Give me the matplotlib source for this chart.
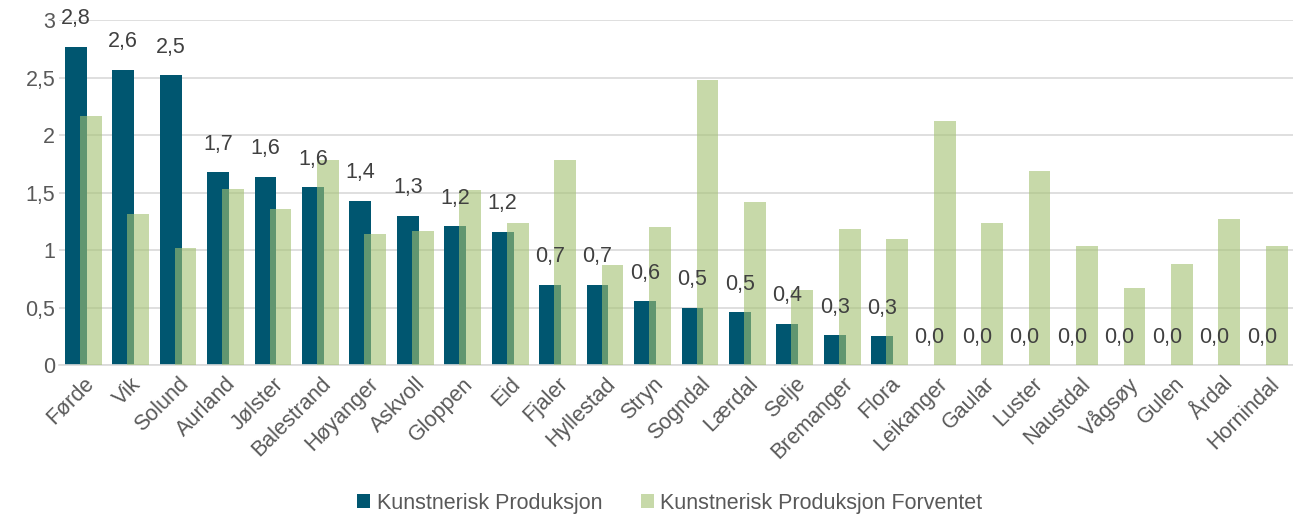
import numpy as np
from matplotlib import pyplot as plt

kommuner = ['Førde', 'Vik', 'Solund', 'Aurland', 'Jølster', 'Balestrand', 'Høyanger',
            'Askvoll', 'Gloppen', 'Eid', 'Fjaler', 'Hyllestad', 'Stryn', 'Sogndal',
            'Lærdal', 'Selje', 'Bremanger', 'Flora', 'Leikanger', 'Gaular', 'Luster',
            'Naustdal', 'Vågsøy', 'Gulen', 'Årdal', 'Hornindal']
produksjon = [2.77, 2.57, 2.52, 1.68, 1.64, 1.55, 1.43, 1.30, 1.21, 1.16, 0.70, 0.70,
              0.555, 0.50, 0.46, 0.36, 0.26, 0.255, 0, 0, 0, 0, 0, 0, 0, 0]
forventet = [2.17, 1.31, 1.02, 1.53, 1.36, 1.78, 1.14, 1.17, 1.52, 1.24, 1.78, 0.87,
             1.20, 2.48, 1.42, 0.65, 1.18, 1.10, 2.12, 1.24, 1.69, 1.04, 0.67, 0.88,
             1.27, 1.04]
yticks = [0, 0.5, 1, 1.5, 2, 2.5, 3]
ytick_labels = ['0', '0,5', '1', '1,5', '2', '2,5', '3']

plt.rcParams['font.family'] = ['Liberation Sans', 'DejaVu Sans']
fs = 15.5

fig = plt.figure(figsize=(12.93, 5.15), dpi=100)
ax = fig.add_axes([0.046, 0.291, 0.954, 0.670])

x = np.arange(len(kommuner))
w = 0.46
off = 0.158
dark = '#005670'
ax.bar(x - off, produksjon, w, color=dark, label='Kunstnerisk Produksjon', zorder=2)
ax.bar(x + off, forventet, w, color='#a3c171', alpha=0.6,
       label='Kunstnerisk Produksjon Forventet', zorder=3)

for xi, v in zip(x, produksjon):
    ax.annotate(('%.1f' % v).replace('.', ','), (xi - off, v), xytext=(0, 20),
                textcoords='offset points', ha='center', va='center',
                fontsize=fs, color='#404040', zorder=4)

ax.set_xlim(-0.5, len(kommuner) - 0.5)
ax.set_ylim(0, 3)
ax.set_yticks(yticks)
ax.set_yticklabels(ytick_labels, fontsize=fs, color='#595959')
ax.set_xticks(x)
ax.set_xticklabels(kommuner, rotation=45, ha='right', rotation_mode='anchor',
                   fontsize=fs, color='#595959')
ax.tick_params(axis='y', length=0, pad=3)
ax.tick_params(axis='x', length=0, pad=6)
ax.grid(axis='y', color='#d9d9d9', linewidth=1.2, zorder=0)
ax.set_axisbelow(True)
for s in ['top', 'right', 'left']:
    ax.spines[s].set_visible(False)
ax.spines['bottom'].set_color('#d9d9d9')
ax.spines['bottom'].set_linewidth(1.2)

leg = fig.legend(loc='center', bbox_to_anchor=(0.518, 0.023), ncol=2, frameon=False,
                 fontsize=fs, handlelength=0.6, handleheight=0.6, columnspacing=1.8,
                 handletextpad=0.3)
for t in leg.get_texts():
    t.set_color('#595959')

plt.savefig('out.png', dpi=100)
